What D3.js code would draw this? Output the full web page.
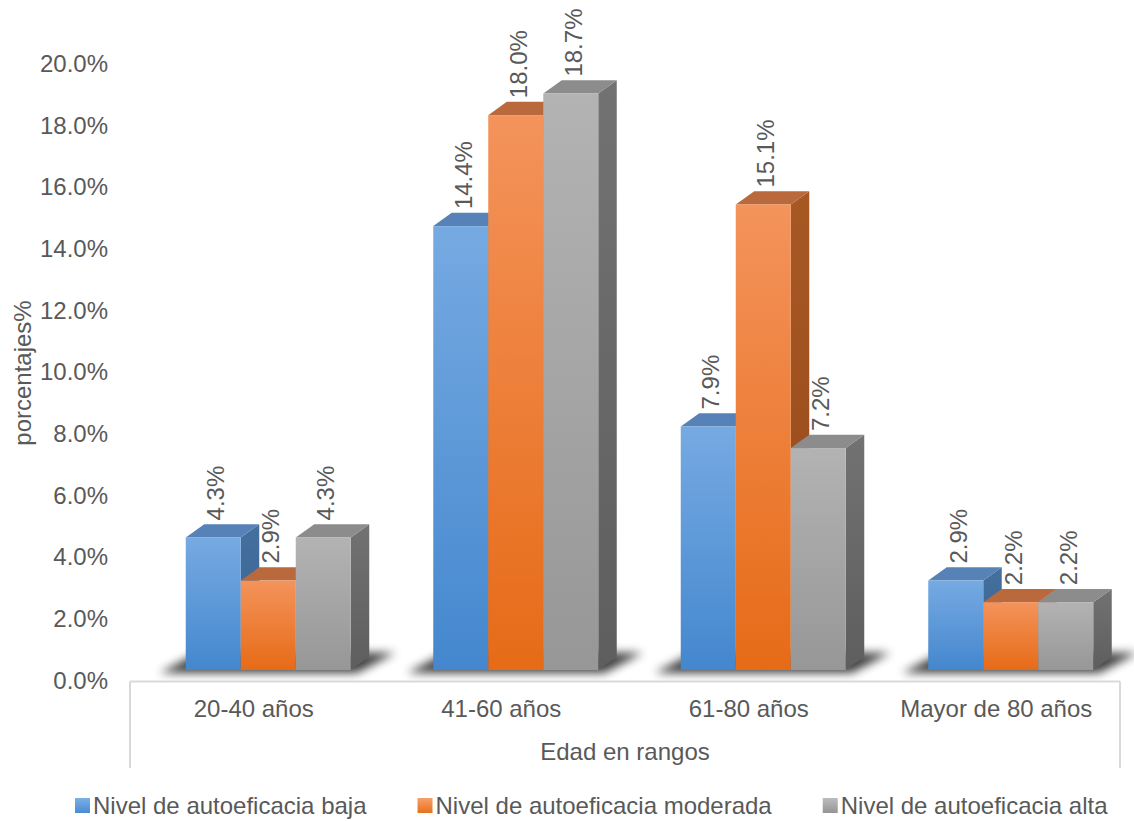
<!DOCTYPE html>
<html>
<head>
<meta charset="utf-8">
<script src="https://cdn.jsdelivr.net/npm/d3@7"></script>
<style>
  html, body { margin: 0; padding: 0; background: #ffffff; }
  svg { display: block; }
  text { font-family: "Liberation Sans", Arial, Helvetica, sans-serif; fill: #595959; }
</style>
</head>
<body>
<svg id="chart" width="1134" height="821"></svg>
<script>
// Age ranges (category axis)
const categories = ["20-40 años", "41-60 años", "61-80 años", "Mayor de 80 años"];
// Series names (legend)
const seriesNames = ["Nivel de autoeficacia baja", "Nivel de autoeficacia moderada", "Nivel de autoeficacia alta"];
// Percentages per series, one value per age range
const baja = [4.3, 14.4, 7.9, 2.9];
const moderada = [2.9, 18.0, 15.1, 2.2];
const alta = [4.3, 18.7, 7.2, 2.2];
// Value axis ticks
const yTicks = [0, 2, 4, 6, 8, 10, 12, 14, 16, 18, 20];

const seriesValues = [baja, moderada, alta];

// Face colours for each series: front gradient (top, bottom), top face, side gradient
const palette = [
  { front: ["#76aae2", "#4487ce"], top: "#5682b8", side: ["#44709f", "#3a5f8a"], legend: ["#7ab0e6", "#4a8cd2"] },
  { front: ["#f4935b", "#e66b17"], top: "#b9693c", side: ["#a85823", "#94481a"], legend: ["#f7a06a", "#e8701c"] },
  { front: ["#b3b3b3", "#979797"], top: "#8c8c8c", side: ["#727272", "#5e5e5e"], legend: ["#bcbcbc", "#959595"] }
];

const svg = d3.select("#chart");
const defs = svg.append("defs");

palette.forEach((p, i) => {
  const gf = defs.append("linearGradient").attr("id", "front" + i)
    .attr("x1", 0).attr("y1", 0).attr("x2", 0).attr("y2", 1);
  gf.append("stop").attr("offset", "0%").attr("stop-color", p.front[0]);
  gf.append("stop").attr("offset", "100%").attr("stop-color", p.front[1]);
  const gs = defs.append("linearGradient").attr("id", "side" + i)
    .attr("x1", 0).attr("y1", 0).attr("x2", 0).attr("y2", 1);
  gs.append("stop").attr("offset", "0%").attr("stop-color", p.side[0]);
  gs.append("stop").attr("offset", "100%").attr("stop-color", p.side[1]);
  const gl = defs.append("linearGradient").attr("id", "legend" + i)
    .attr("x1", 0).attr("y1", 0).attr("x2", 0).attr("y2", 1);
  gl.append("stop").attr("offset", "0%").attr("stop-color", p.legend[0]);
  gl.append("stop").attr("offset", "100%").attr("stop-color", p.legend[1]);
});

const blur = defs.append("filter").attr("id", "floorShadow")
  .attr("x", "-30%").attr("y", "-100%").attr("width", "160%").attr("height", "300%");
blur.append("feGaussianBlur").attr("stdDeviation", 5);

// Scales
const plotLeft = 130, plotRight = 1120;
const x0 = d3.scaleBand().domain(categories).range([plotLeft, plotRight]).padding(0);
const barW = 55;
const x1 = d3.scaleBand().domain(seriesNames).range([0, barW * seriesNames.length]).padding(0);
const groupShift = -68;               // front-left of each group relative to the band centre
const y = d3.scaleLinear().domain([0, 20]).range([680.5, 64]);   // value axis labels
const floorLift = 10.5;               // bars stand on the raised floor
const yBar = v => y(v) - floorLift;
const depthX = 18.5, depthY = -13.3;  // oblique depth of the columns

function groupLeft(c) { return x0(c) + x0.bandwidth() / 2 + groupShift; }

// Floor shadows under each cluster
const shadowLayer = svg.append("g").attr("class", "shadows");
categories.forEach(c => {
  const xl = groupLeft(c);
  const xr = xl + x1.range()[1];
  const base = yBar(0);
  const pts = [
    [xl - 26, base + 3],
    [xr + 6, base + 3],
    [xr + depthX + 26, base + depthY - 4],
    [xl + depthX - 6, base + depthY - 4]
  ];
  shadowLayer.append("polygon")
    .attr("points", pts.map(p => p.join(",")).join(" "))
    .attr("fill", "#000")
    .attr("opacity", 0.75)
    .attr("filter", "url(#floorShadow)");
});

// Columns
const barLayer = svg.append("g").attr("class", "bars");
categories.forEach((c, ci) => {
  const gx = groupLeft(c);
  seriesNames.forEach((s, si) => {
    const v = seriesValues[si][ci];
    const xl = gx + x1(s);
    const xr = xl + x1.bandwidth();
    const yt = yBar(v);
    const yb = yBar(0);
    const g = barLayer.append("g");
    g.append("polygon")
      .attr("points", [[xr, yt], [xr + depthX, yt + depthY], [xr + depthX, yb + depthY], [xr, yb]].map(p => p.join(",")).join(" "))
      .attr("fill", "url(#side" + si + ")");
    g.append("polygon")
      .attr("points", [[xl, yt], [xr, yt], [xr + depthX, yt + depthY], [xl + depthX, yt + depthY]].map(p => p.join(",")).join(" "))
      .attr("fill", palette[si].top);
    g.append("rect")
      .attr("x", xl).attr("y", yt)
      .attr("width", x1.bandwidth()).attr("height", yb - yt)
      .attr("fill", "url(#front" + si + ")");
  });
});

// Value labels, rotated, above each column
const labelLayer = svg.append("g").attr("class", "labels");
categories.forEach((c, ci) => {
  const gx = groupLeft(c);
  seriesNames.forEach((s, si) => {
    const v = seriesValues[si][ci];
    const cx = gx + x1(s) + x1.bandwidth() / 2 + 2.5;
    const ys = yBar(v) - 17;
    labelLayer.append("text")
      .attr("transform", `translate(${cx},${ys}) rotate(-90)`)
      .attr("dy", "0.35em")
      .attr("text-anchor", "start")
      .style("font-size", "24px")
      .text(v.toFixed(1) + "%");
  });
});

// Value axis (labels only)
const yAxis = d3.axisLeft(y).tickValues(yTicks)
  .tickFormat(d => d.toFixed(1) + "%").tickSize(0).tickPadding(0);
const yg = svg.append("g").attr("transform", "translate(108,0)").call(yAxis);
yg.select(".domain").remove();
yg.selectAll("text").style("font-size", "24px").style("font-family", null).attr("fill", null);

// Axis title
svg.append("text")
  .attr("transform", "translate(31,373) rotate(-90)")
  .attr("text-anchor", "middle")
  .style("font-size", "24px")
  .text("porcentajes%");

// Category axis frame
const axisY = 681.5, frameBottom = 768;
const frame = svg.append("g").attr("stroke", "#d9d9d9").attr("stroke-width", 2).attr("fill", "none");
frame.append("line").attr("x1", plotLeft).attr("x2", plotRight).attr("y1", axisY).attr("y2", axisY);
frame.append("line").attr("x1", plotLeft).attr("x2", plotLeft).attr("y1", axisY).attr("y2", frameBottom);
frame.append("line").attr("x1", plotRight).attr("x2", plotRight).attr("y1", axisY).attr("y2", frameBottom);

// Category labels
svg.append("g").selectAll("text").data(categories).join("text")
  .attr("x", d => x0(d) + x0.bandwidth() / 2)
  .attr("y", 717)
  .attr("text-anchor", "middle")
  .style("font-size", "24px")
  .text(d => d);

svg.append("text")
  .attr("x", (plotLeft + plotRight) / 2)
  .attr("y", 760)
  .attr("text-anchor", "middle")
  .style("font-size", "24px")
  .text("Edad en rangos");

// Legend
const legend = svg.append("g").attr("class", "legend");
let lx = 75;
seriesNames.forEach((s, si) => {
  const item = legend.append("g").attr("transform", `translate(${lx},0)`);
  item.append("rect").attr("x", 0).attr("y", 798).attr("width", 15).attr("height", 15)
    .attr("fill", "url(#legend" + si + ")");
  const t = item.append("text").attr("x", 18).attr("y", 814)
    .style("font-size", "24px").text(s);
  lx += 18 + t.node().getComputedTextLength() + 51;
});
</script>
</body>
</html>
